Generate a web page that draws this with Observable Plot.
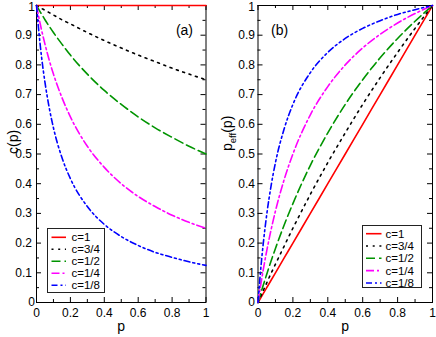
<!DOCTYPE html>
<html><head><meta charset="utf-8">
<script src="https://cdn.jsdelivr.net/npm/d3@7"></script>
<script src="https://cdn.jsdelivr.net/npm/@observablehq/plot@0.6"></script>
<style>
html,body{margin:0;padding:0;background:#fff;}
#chart{position:relative;width:436px;height:337px;overflow:hidden;font-family:"Liberation Sans",Arial,sans-serif;}
#chart svg{position:absolute;top:0;}
</style></head><body><div id="chart"></div>
<script>
// ---- data ----
const seriesLabels = ["c=1", "c=3/4", "c=1/2", "c=1/4", "c=1/8"];
const pGrid = [0, 0.01, 0.02, 0.03, 0.05, 0.075, 0.1, 0.15, 0.2, 0.3, 0.4, 0.5, 0.6, 0.7, 0.8, 0.9, 1];

// panel (a): c(p)
const cOfP_c1  = [1, 1, 1, 1, 1, 1, 1, 1, 1, 1, 1, 1, 1, 1, 1, 1, 1];
const cOfP_c34 = [1, 0.997, 0.993, 0.990, 0.984, 0.976, 0.968, 0.952, 0.938, 0.909, 0.882, 0.857, 0.833, 0.811, 0.789, 0.769, 0.75];
const cOfP_c12 = [1, 0.990, 0.980, 0.971, 0.952, 0.930, 0.909, 0.870, 0.833, 0.769, 0.714, 0.667, 0.625, 0.588, 0.556, 0.526, 0.5];
const cOfP_c14 = [1, 0.971, 0.943, 0.917, 0.870, 0.816, 0.769, 0.690, 0.625, 0.526, 0.455, 0.400, 0.357, 0.323, 0.294, 0.270, 0.25];
const cOfP_c18 = [1, 0.935, 0.877, 0.826, 0.741, 0.656, 0.588, 0.488, 0.417, 0.323, 0.263, 0.222, 0.192, 0.169, 0.152, 0.137, 0.125];

// panel (b): p_eff(p)
const pEff_c1  = [0, 0.01, 0.02, 0.03, 0.05, 0.075, 0.1, 0.15, 0.2, 0.3, 0.4, 0.5, 0.6, 0.7, 0.8, 0.9, 1];
const pEff_c34 = [0, 0.013, 0.026, 0.040, 0.066, 0.098, 0.129, 0.190, 0.250, 0.364, 0.471, 0.571, 0.667, 0.757, 0.842, 0.923, 1];
const pEff_c12 = [0, 0.020, 0.039, 0.058, 0.095, 0.140, 0.182, 0.261, 0.333, 0.462, 0.571, 0.667, 0.750, 0.824, 0.889, 0.947, 1];
const pEff_c14 = [0, 0.039, 0.075, 0.110, 0.174, 0.245, 0.308, 0.414, 0.500, 0.632, 0.727, 0.800, 0.857, 0.903, 0.941, 0.973, 1];
const pEff_c18 = [0, 0.075, 0.140, 0.198, 0.296, 0.393, 0.471, 0.585, 0.667, 0.774, 0.842, 0.889, 0.923, 0.949, 0.970, 0.986, 1];

const xTickValues = [0, 0.2, 0.4, 0.6, 0.8, 1];
const xTickLabels = ["0", "0.2", "0.4", "0.6", "0.8", "1"];
const xMinorValues = [0.1, 0.3, 0.5, 0.7, 0.9];
const yTickValues = [0, 0.1, 0.2, 0.3, 0.4, 0.5, 0.6, 0.7, 0.8, 0.9, 1];
const yTickLabels = ["0", "0.1", "0.2", "0.3", "0.4", "0.5", "0.6", "0.7", "0.8", "0.9", "1"];
const yMinorValues = [0.05, 0.15, 0.25, 0.35, 0.45, 0.55, 0.65, 0.75, 0.85, 0.95];

// ---- styles ----
const seriesColors = ["#ff0000", "#000000", "#009400", "#ff00ff", "#0000ff"];
const seriesDashes = [null, "2,4.7", "9,4", "8,3,2,3", "6,3,2,3,2,3"];

const H = 337, MT = 5, MB = 35;
const FH = H - MT - MB;
const FONT = "'Liberation Sans', Arial, Helvetica, sans-serif";

function buildPanel(cfg) {
  const W = cfg.width - cfg.marginLeft - cfg.marginRight;
  const marks = [];
  // ticks (inward, all four sides)
  marks.push(Plot.ruleX(xTickValues, {x: d => d, insetTop: FH - 5, strokeWidth: 1}));
  marks.push(Plot.ruleX(xTickValues, {x: d => d, insetBottom: FH - 5, strokeWidth: 1}));
  marks.push(Plot.ruleX(xMinorValues, {x: d => d, insetTop: FH - 3, strokeWidth: 1}));
  marks.push(Plot.ruleX(xMinorValues, {x: d => d, insetBottom: FH - 3, strokeWidth: 1}));
  marks.push(Plot.ruleY(yTickValues, {y: d => d, insetRight: W - 5, strokeWidth: 1}));
  marks.push(Plot.ruleY(yTickValues, {y: d => d, insetLeft: W - 5, strokeWidth: 1}));
  marks.push(Plot.ruleY(yMinorValues, {y: d => d, insetRight: W - 3, strokeWidth: 1}));
  marks.push(Plot.ruleY(yMinorValues, {y: d => d, insetLeft: W - 3, strokeWidth: 1}));
  marks.push(Plot.frame({stroke: "#000", strokeWidth: 1}));
  // curves
  cfg.series.forEach((vals, i) => {
    const data = pGrid.map((p, j) => ({p, v: vals[j], s: seriesLabels[i]}));
    marks.push(Plot.line(data, {
      x: "p", y: "v", stroke: seriesColors[i], strokeWidth: 1.6,
      strokeDasharray: seriesDashes[i] || undefined, curve: "monotone-x"
    }));
  });
  // tick labels
  marks.push(Plot.text(xTickValues, {x: d => d, text: (d, i) => xTickLabels[i], frameAnchor: "bottom", dy: 14, fontSize: 12}));
  const idx = yTickValues.map((d, i) => i);
  const isInt = i => !yTickLabels[i].includes(".");
  const topIdx = idx.filter(i => yTickValues[i] === 1);
  const intIdx = idx.filter(i => isInt(i) && yTickValues[i] !== 1);
  const fracIdx = idx.filter(i => !isInt(i));
  marks.push(Plot.text(intIdx, {y: i => yTickValues[i], text: i => yTickLabels[i], frameAnchor: "left", textAnchor: "end", dx: cfg.intDx, fontSize: 12}));
  marks.push(Plot.text(topIdx, {y: i => yTickValues[i], text: i => yTickLabels[i], frameAnchor: "left", textAnchor: "end", dx: cfg.intDx, dy: 1.5, fontSize: 12}));
  marks.push(Plot.text(fracIdx, {y: i => yTickValues[i], text: i => yTickLabels[i], frameAnchor: "left", textAnchor: "end", dx: cfg.fracDx, fontSize: 12}));
  // axis titles
  marks.push(Plot.text(["p"], {frameAnchor: "bottom", dy: 28, fontSize: 14}));
  marks.push(Plot.text([cfg.yTitle], {frameAnchor: "left", dx: cfg.titleDx, dy: cfg.titleDy, rotate: -90, fontSize: 14}));
  // panel tag
  marks.push(Plot.text([cfg.tag], {frameAnchor: cfg.tagAnchor, textAnchor: cfg.tagTextAnchor, dx: cfg.tagDx, dy: 20, fontSize: 14}));

  const svg = Plot.plot({
    width: cfg.width, height: H,
    marginLeft: cfg.marginLeft, marginRight: cfg.marginRight, marginTop: MT, marginBottom: MB,
    x: {domain: [0, 1], axis: null},
    y: {domain: [0, 1], axis: null},
    style: {fontFamily: FONT, fontSize: "12px", background: "transparent", overflow: "visible"},
    marks
  });
  svg.style.left = cfg.left + "px";
  document.getElementById("chart").appendChild(svg);
  return svg;
}

buildPanel({
  series: [cOfP_c1, cOfP_c34, cOfP_c12, cOfP_c14, cOfP_c18],
  left: 0, width: 218, marginLeft: 36, marginRight: 12.5,
  yTitle: "c(p)", titleDx: -23, titleDy: 0,
  intDx: -1.5, fracDx: -4.5,
  tag: "(a)", tagAnchor: "top-right", tagTextAnchor: "end", tagDx: -13
});

const svgB = buildPanel({
  series: [pEff_c1, pEff_c34, pEff_c12, pEff_c14, pEff_c18],
  left: 218, width: 218, marginLeft: 39.5, marginRight: 4,
  yTitle: "PEFF_TITLE", titleDx: -30, titleDy: -3,
  intDx: -3, fracDx: -3,
  tag: "(b)", tagAnchor: "top-left", tagTextAnchor: "start", tagDx: 13
});

// subscript for p_eff(p)
svgB.querySelectorAll("text").forEach(t => {
  if (t.textContent === "PEFF_TITLE") {
    const sel = d3.select(t);
    sel.selectAll("*").remove();
    sel.text(null);
    sel.append("tspan").text("p");
    sel.append("tspan").attr("font-size", 9.5).attr("dy", 4).text("eff");
    sel.append("tspan").attr("dy", -4).text("(p)");
  }
});

// legends
const leg = d3.select("#chart").append("svg")
  .attr("width", 436).attr("height", 337).style("left", "0px")
  .style("font-family", FONT);

function drawLegend(x, y, w, h, sx1, sx2, tx, rowY) {
  leg.append("rect").attr("x", x).attr("y", y).attr("width", w).attr("height", h)
    .attr("fill", "#fff").attr("stroke", "#222").attr("stroke-width", 1);
  seriesLabels.forEach((lab, i) => {
    leg.append("line").attr("x1", sx1).attr("x2", sx2).attr("y1", rowY[i]).attr("y2", rowY[i])
      .attr("stroke", seriesColors[i]).attr("stroke-width", 1.6)
      .attr("stroke-dasharray", seriesDashes[i]);
    leg.append("text").attr("x", tx).attr("y", rowY[i]).attr("dy", "0.36em")
      .attr("font-size", 11.5).attr("fill", "#000").text(lab);
  });
}
drawLegend(47.5, 228.5, 57, 64, 51.5, 66, 71.5, [237.3, 249.3, 261.3, 273.3, 285.3]);
drawLegend(362.5, 225.5, 59, 62, 366, 381.5, 385.5, [233.7, 246, 258.3, 270.6, 283]);
</script>
</body></html>
